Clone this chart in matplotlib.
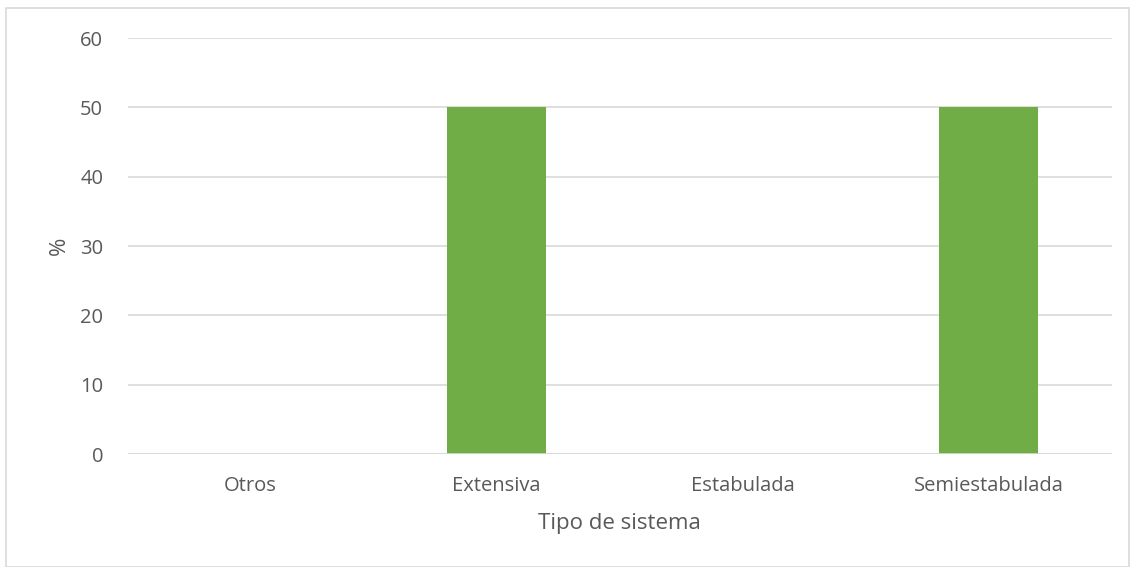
import matplotlib.pyplot as plt
import numpy as np
from matplotlib.patches import Rectangle

categories = ['Otros', 'Extensiva', 'Estabulada', 'Semiestabulada']
values = [0, 50, 0, 50]
yticks = [0, 10, 20, 30, 40, 50, 60]

plt.rcParams['font.family'] = ['Open Sans', 'DejaVu Sans']
text_color = '#595959'

fig = plt.figure(figsize=(11.36, 5.67), dpi=100)
W, H = 1136, 567
ax = fig.add_axes([127.5 / W, 1 - 454 / H, (1111.5 - 127.5) / W, (454 - 38) / H])

x = np.arange(len(categories))
ax.bar(x, values, width=0.4, color='#70AD47', zorder=3)

ax.set_xlim(-0.5, len(categories) - 0.5)
ax.set_ylim(0, 60)
ax.set_yticks(yticks)
ax.set_xticks(x)
ax.set_xticklabels(categories)
ax.grid(axis='y', color='#D9D9D9', linewidth=1.2, zorder=0)
ax.tick_params(length=0, labelsize=14.5, colors=text_color)
ax.tick_params(axis='x', pad=16)
ax.tick_params(axis='y', pad=17.5)
for side in ['top', 'right', 'left', 'bottom']:
    ax.spines[side].set_visible(False)
ax.axhline(0, color='#D9D9D9', linewidth=1.2, zorder=4)

ax.set_xlabel('Tipo de sistema', fontsize=16, color=text_color, labelpad=12)
ax.set_ylabel('%', fontsize=16, color=text_color, labelpad=7)

fig.patches.append(Rectangle((6 / W, 0), (1129 - 6) / W, 1 - 8 / H, transform=fig.transFigure,
                             fill=False, edgecolor='#D9D9D9', linewidth=1.2))

fig.savefig('out.png', dpi=100)
